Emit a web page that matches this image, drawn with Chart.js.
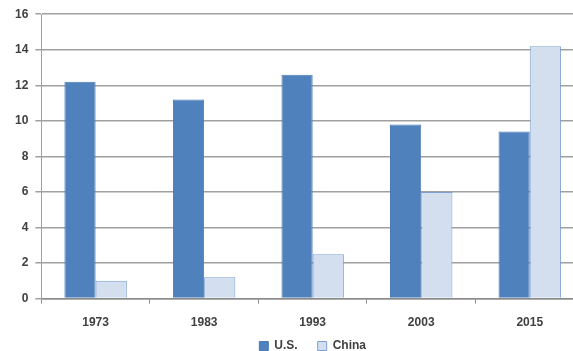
<!DOCTYPE html>
<html>
<head>
<meta charset="utf-8">
<script src="https://cdn.jsdelivr.net/npm/chart.js@4"></script>
<style>
  html, body { margin: 0; padding: 0; background: #fff; overflow: hidden; }
  #wrap { position: relative; width: 584px; height: 351px; }
</style>
</head>
<body>
<div id="wrap"><canvas id="chart"></canvas></div>
<script>
  // data
  const years = ['1973', '1983', '1993', '2003', '2015'];
  const usValues = [12.2, 11.2, 12.6, 9.8, 9.4];
  const chinaValues = [1.0, 1.2, 2.5, 6.0, 14.2];
  const yTicks = [0, 2, 4, 6, 8, 10, 12, 14, 16];

  const labelFont = { family: 'Liberation Sans', size: 12, weight: 'bold' };
  const legendPad = 20;

  // put the legend row under the axis labels and centred on the plot, like the original
  // (the legend clips to its own box, so give it enough height to show the row)
  const legendPlacer = {
    id: 'legendPlacer',
    afterLayout(chart) {
      const lg = chart.legend;
      const area = chart.chartArea;
      lg.top = 346 - 6 - legendPad;
      lg.height = legendPad + 40;
      lg.bottom = lg.top + lg.height;
      lg.left = area.left;
      lg.right = area.right;
      lg.width = area.right - area.left;
    }
  };

  const ctx = document.getElementById('chart').getContext('2d');
  const chart = new Chart(ctx, {
    type: 'bar',
    data: {
      labels: years,
      datasets: [{
        label: 'U.S.',
        data: usValues,
        backgroundColor: '#4F81BD',
        borderColor: '#4A7AB5',
        borderWidth: 1
      }, {
        label: 'China',
        data: chinaValues,
        backgroundColor: '#D3DFEE',
        borderColor: '#7E9FCF',
        borderWidth: 1
      }]
    },
    options: {
      responsive: true,
      maintainAspectRatio: false,
      animation: false,
      layout: { padding: { left: 8, right: 0, top: 10, bottom: -11 } },
      datasets: {
        bar: { barPercentage: 1, categoryPercentage: 0.575 }
      },
      plugins: {
        legend: {
          position: 'bottom',
          maxHeight: 20,
          labels: {
            boxWidth: 9,
            boxHeight: 9,
            padding: legendPad,
            color: '#404040',
            font: labelFont
          }
        },
        tooltip: { enabled: false }
      },
      scales: {
        x: {
          grid: {
            offset: true,
            drawOnChartArea: false,
            drawTicks: true,
            tickLength: 5,
            color: '#8a8a8a'
          },
          border: { color: '#8a8a8a', width: 1.5 },
          ticks: {
            color: '#404040',
            padding: 12,
            font: labelFont
          }
        },
        y: {
          min: 0,
          max: 16,
          afterBuildTicks: axis => {
            axis.ticks = yTicks.map(v => ({ value: v }));
          },
          grid: {
            color: '#a0a0a0',
            lineWidth: 1.5,
            tickLength: 6
          },
          border: { color: '#a0a0a0', width: 1 },
          ticks: {
            color: '#404040',
            padding: 7,
            font: labelFont
          }
        }
      }
    },
    plugins: [legendPlacer]
  });
</script>
</body>
</html>
